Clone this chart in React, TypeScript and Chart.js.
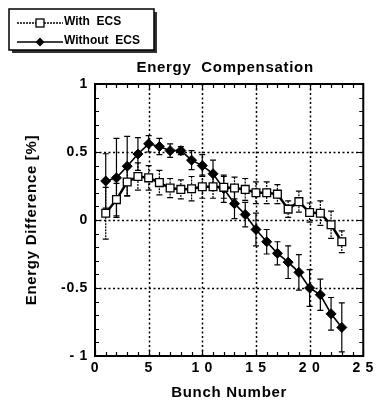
import React, { useEffect, useRef } from 'react';
import { Chart, registerables } from 'chart.js';

Chart.register(...registerables);

const bunches = [1, 2, 3, 4, 5, 6, 7, 8, 9, 10, 11, 12, 13, 14, 15, 16, 17, 18, 19, 20, 21, 22, 23];
const withEcs = [0.05, 0.15, 0.28, 0.32, 0.31, 0.275, 0.235, 0.225, 0.23, 0.245, 0.245, 0.24, 0.235, 0.225, 0.2, 0.2, 0.19, 0.08, 0.135, 0.055, 0.05, -0.035, -0.16];
const withEcsErr = [0.19, 0.12, 0.1, 0.1, 0.09, 0.09, 0.07, 0.07, 0.09, 0.085, 0.085, 0.08, 0.08, 0.08, 0.08, 0.08, 0.07, 0.06, 0.077, 0.07, 0.09, 0.1, 0.08];
const withoutEcs = [0.287, 0.31, 0.395, 0.485, 0.56, 0.54, 0.51, 0.51, 0.44, 0.4, 0.34, 0.23, 0.12, 0.04, -0.07, -0.16, -0.245, -0.31, -0.385, -0.5, -0.55, -0.69, -0.79];
const withoutEcsErr = [0.2, 0.29, 0.22, 0.12, 0.06, 0.06, 0.05, 0.03, 0.07, 0.08, 0.1, 0.1, 0.11, 0.09, 0.12, 0.09, 0.085, 0.12, 0.13, 0.135, 0.115, 0.12, 0.18];

const xTickLabels: Record<number, string> = { 0: '0', 5: '5', 10: '1 0', 15: '1 5', 20: '2 0', 25: '2 5' };
const yTickLabels: Record<string, string> = { '1': '1', '0.5': '0.5', '0': '0', '-0.5': '-0.5', '-1': '- 1' };
const xGridValues = [5, 10, 15, 20];
const yGridValues = [0.5, 0, -0.5];

const chartTitle = 'Energy  Compensation';
const xTitle = 'Bunch Number';
const yTitle = 'Energy Difference [%]';
const seriesNames = ['With  ECS', 'Without  ECS'];

const FONT = "'Liberation Sans', Arial, Helvetica, sans-serif";

function drawSquare(ctx: CanvasRenderingContext2D, x: number, y: number, s: number) {
  ctx.save();
  ctx.setLineDash([]);
  ctx.fillStyle = '#fff';
  ctx.strokeStyle = '#000';
  ctx.lineWidth = 1.3;
  ctx.fillRect(x - s, y - s, 2 * s, 2 * s);
  ctx.strokeRect(x - s, y - s, 2 * s, 2 * s);
  ctx.restore();
}

function drawDiamond(ctx: CanvasRenderingContext2D, x: number, y: number, r: number) {
  ctx.save();
  ctx.setLineDash([]);
  ctx.fillStyle = '#000';
  ctx.beginPath();
  ctx.moveTo(x, y - r);
  ctx.lineTo(x + r, y);
  ctx.lineTo(x, y + r);
  ctx.lineTo(x - r, y);
  ctx.closePath();
  ctx.fill();
  ctx.restore();
}

const framePlugin = {
  id: 'framePlugin',
  beforeDraw(chart: any) {
    (chart.ctx as any).letterSpacing = '0.7px';
  },
  beforeDatasetsDraw(chart: any) {
    const { ctx, chartArea: a, scales } = chart;
    const x = scales.x;
    const y = scales.y;
    ctx.save();
    ctx.strokeStyle = '#000';
    // dotted grid
    ctx.lineWidth = 1.5;
    ctx.setLineDash([2, 2.5]);
    for (const v of xGridValues) {
      const px = Math.round(x.getPixelForValue(v)) + 0.5;
      ctx.beginPath();
      ctx.moveTo(px, a.top);
      ctx.lineTo(px, a.bottom);
      ctx.stroke();
    }
    for (const v of yGridValues) {
      const py = Math.round(y.getPixelForValue(v)) + 0.5;
      ctx.beginPath();
      ctx.moveTo(a.left, py);
      ctx.lineTo(a.right, py);
      ctx.stroke();
    }
    ctx.setLineDash([]);
    // inward ticks
    ctx.lineWidth = 1.2;
    for (let i = x.min; i <= x.max; i++) {
      const px = Math.round(x.getPixelForValue(i)) + 0.5;
      const len = i % 5 === 0 ? 6 : 4;
      ctx.beginPath();
      ctx.moveTo(px, a.bottom);
      ctx.lineTo(px, a.bottom - len);
      ctx.moveTo(px, a.top);
      ctx.lineTo(px, a.top + len);
      ctx.stroke();
    }
    for (let i = Math.round(y.min * 10); i <= Math.round(y.max * 10); i++) {
      const py = Math.round(y.getPixelForValue(i / 10)) + 0.5;
      const len = i % 5 === 0 ? 6 : 4;
      ctx.beginPath();
      ctx.moveTo(a.left, py);
      ctx.lineTo(a.left + len, py);
      ctx.moveTo(a.right, py);
      ctx.lineTo(a.right - len, py);
      ctx.stroke();
    }
    // frame
    ctx.lineWidth = 2;
    ctx.strokeRect(a.left, a.top, a.right - a.left, a.bottom - a.top);

    // error bars
    const drawErr = (vals: number[], errs: number[], dash: number[]) => {
      ctx.setLineDash(dash);
      ctx.lineWidth = 1.2;
      for (let i = 0; i < bunches.length; i++) {
        const px = x.getPixelForValue(bunches[i]);
        const top = y.getPixelForValue(vals[i] + errs[i]);
        const bot = y.getPixelForValue(vals[i] - errs[i]);
        ctx.beginPath();
        ctx.moveTo(px, top);
        ctx.lineTo(px, bot);
        ctx.stroke();
        ctx.setLineDash([]);
        ctx.beginPath();
        ctx.moveTo(px - 3, top);
        ctx.lineTo(px + 3, top);
        ctx.moveTo(px - 3, bot);
        ctx.lineTo(px + 3, bot);
        ctx.stroke();
        ctx.setLineDash(dash);
      }
      ctx.setLineDash([]);
    };
    drawErr(withEcs, withEcsErr, [2, 1]);
    drawErr(withoutEcs, withoutEcsErr, []);
    ctx.restore();
  },
  afterDraw(chart: any) {
    const { ctx, chartArea: a } = chart;
    ctx.save();
    // title
    ctx.fillStyle = '#000';
    ctx.font = `bold 15px ${FONT}`;
    ctx.textAlign = 'center';
    ctx.textBaseline = 'middle';
    ctx.fillText(chartTitle, (a.left + a.right) / 2 - 4, 68);

    // legend box with shadow
    const bx = 9, by = 9, bw = 145, bh = 41;
    ctx.fillStyle = '#333';
    ctx.fillRect(bx + 3, by + 3, bw, bh);
    ctx.fillStyle = '#fff';
    ctx.fillRect(bx, by, bw, bh);
    ctx.strokeStyle = '#000';
    ctx.lineWidth = 1.5;
    ctx.strokeRect(bx, by, bw, bh);

    // entry 1
    ctx.lineWidth = 1.3;
    ctx.setLineDash([2, 1]);
    ctx.beginPath();
    ctx.moveTo(17, 23);
    ctx.lineTo(63, 23);
    ctx.stroke();
    ctx.setLineDash([]);
    drawSquare(ctx, 40, 23, 4);
    // entry 2
    ctx.lineWidth = 1.3;
    ctx.beginPath();
    ctx.moveTo(17, 42);
    ctx.lineTo(63, 42);
    ctx.stroke();
    drawDiamond(ctx, 40, 42, 4.5);

    (ctx as any).letterSpacing = '0px';
    ctx.fillStyle = '#000';
    ctx.font = `bold 12px ${FONT}`;
    ctx.textAlign = 'left';
    ctx.textBaseline = 'middle';
    ctx.fillText(seriesNames[0], 64, 22);
    ctx.fillText(seriesNames[1], 64, 41);
    ctx.restore();
    (ctx as any).letterSpacing = '0px';
  },
};

export default function App() {
  const canvasRef = useRef<HTMLCanvasElement | null>(null);

  useEffect(() => {
    document.body.style.margin = '0';
    const canvas = canvasRef.current;
    if (!canvas) return;
    const chart = new Chart(canvas, {
      type: 'line',
      data: {
        datasets: [
          {
            label: seriesNames[0],
            data: bunches.map((b, i) => ({ x: b, y: withEcs[i] })),
            borderColor: '#000',
            borderWidth: 2.5,
            pointStyle: 'rect',
            pointRadius: 5.5,
            pointBackgroundColor: '#fff',
            pointBorderColor: '#000',
            pointBorderWidth: 1.3,
            tension: 0,
            fill: false,
          },
          {
            label: seriesNames[1],
            data: bunches.map((b, i) => ({ x: b, y: withoutEcs[i] })),
            borderColor: '#000',
            borderWidth: 1.6,
            pointStyle: 'rectRot',
            pointRadius: 5,
            pointBackgroundColor: '#000',
            pointBorderColor: '#000',
            pointBorderWidth: 1,
            tension: 0,
            fill: false,
          },
        ],
      },
      options: {
        animation: false,
        responsive: false,
        devicePixelRatio: 1,
        events: [],
        layout: { padding: { top: 84, right: 11, bottom: 0, left: 0 } },
        plugins: {
          legend: { display: false },
          title: { display: false },
          tooltip: { enabled: false },
        },
        scales: {
          x: {
            type: 'linear',
            min: 0,
            max: 25,
            grid: { display: false, drawTicks: false },
            border: { display: false },
            ticks: {
              stepSize: 5,
              autoSkip: false,
              maxRotation: 0,
              padding: 4,
              color: '#000',
              font: { family: FONT, size: 14, weight: 'bold' },
              callback: (v: any) => xTickLabels[Number(v)] ?? '',
            },
            title: {
              display: true,
              text: xTitle,
              color: '#000',
              font: { family: FONT, size: 15, weight: 'bold', lineHeight: 0.9 },
              padding: { top: 0, bottom: 0 },
            },
            afterFit: (s: any) => {
              s.height = 44;
            },
          },
          y: {
            type: 'linear',
            min: -1,
            max: 1,
            grid: { display: false, drawTicks: false },
            border: { display: false },
            ticks: {
              stepSize: 0.5,
              padding: 7,
              color: '#000',
              font: { family: FONT, size: 14, weight: 'bold' },
              callback: (v: any) => yTickLabels[String(Number(v))] ?? '',
            },
            title: {
              display: true,
              text: yTitle,
              color: '#000',
              font: { family: FONT, size: 15, weight: 'bold' },
              padding: { top: 23, bottom: 0 },
            },
            afterFit: (s: any) => {
              s.width = 95;
            },
          },
        },
      },
      plugins: [framePlugin],
    } as any);
    return () => chart.destroy();
  }, []);

  return <canvas ref={canvasRef} width={377} height={400} style={{ display: 'block', width: 377, height: 400 }} />;
}
